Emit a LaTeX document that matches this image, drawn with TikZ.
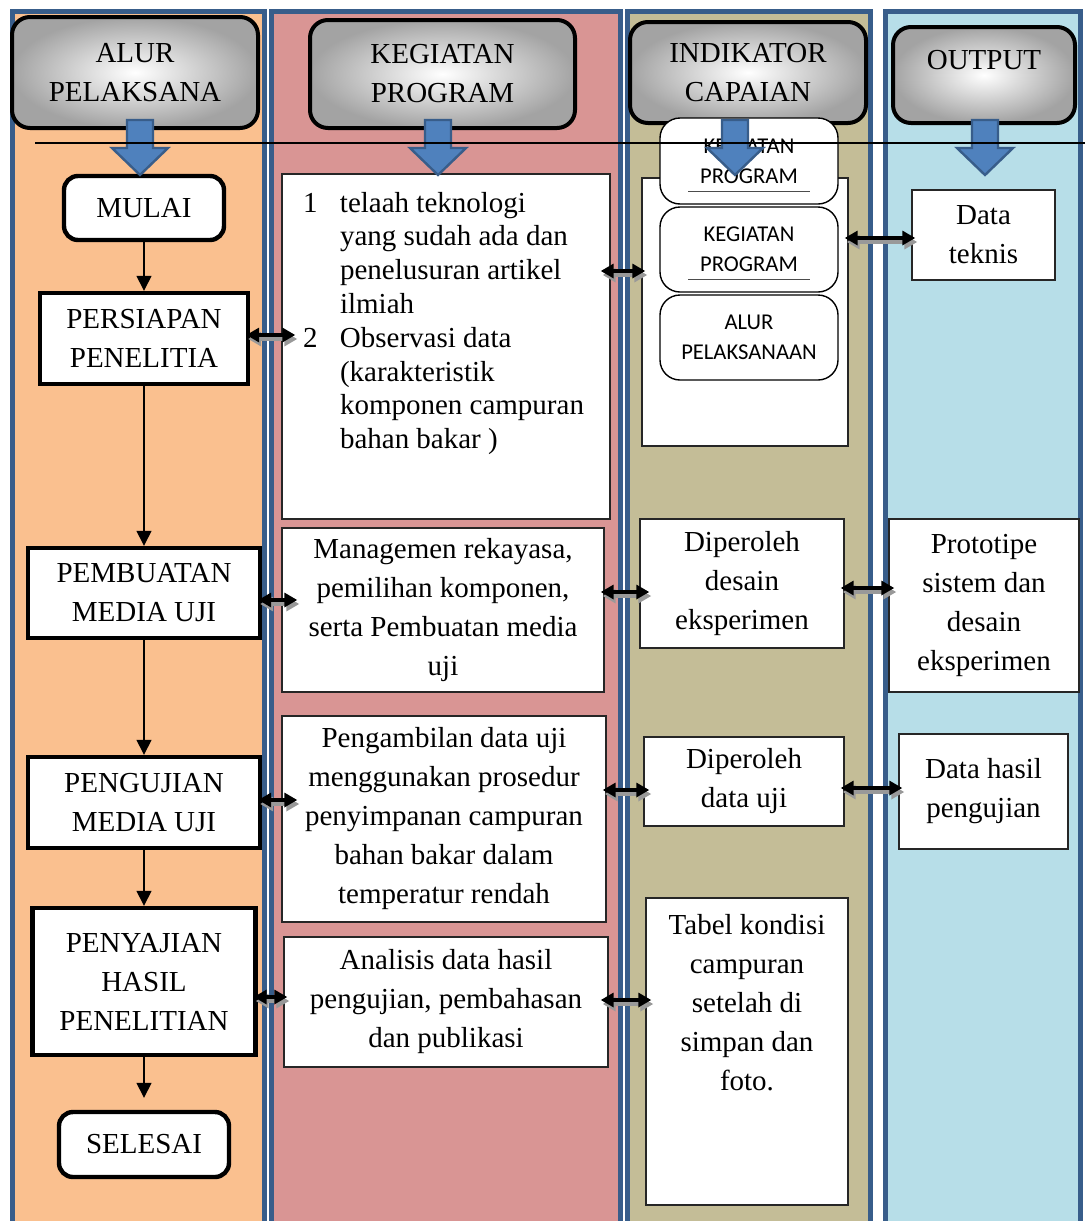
\documentclass[tikz,border=0pt]{standalone}
\usepackage{fontspec}
\setmainfont{Liberation Serif}
\newfontfamily\tagfont{Carlito}
\usetikzlibrary{arrows.meta}
\definecolor{lanedge}{RGB}{56,93,138}
\definecolor{lanepeach}{RGB}{250,192,143}
\definecolor{lanerose}{RGB}{217,149,148}
\definecolor{lanekhaki}{RGB}{196,189,151}
\definecolor{lanesky}{RGB}{183,222,232}
\definecolor{arrowblue}{RGB}{79,129,189}
\newcommand{\teks}{\fontsize{14.5pt}{19.5pt}\selectfont}
\tikzstyle{jalur} = [draw=lanedge, line width=2.5pt]
\tikzstyle{judul} = [draw=black, line width=2pt, rounded corners=9pt, inner color=white, outer color=black!36, align=center, font=\teks, inner sep=2pt]
\tikzstyle{tahap} = [draw=black, line width=2.2pt, fill=white, align=center, font=\teks, inner sep=2pt]
\tikzstyle{tahapujung} = [tahap, rounded corners=7pt]
\tikzstyle{kotak} = [draw=black!85, line width=0.7pt, fill=white, align=center, font=\teks, inner sep=2pt]
\tikzstyle{kotakbulat} = [draw=black, line width=0.7pt, rounded corners=10pt, fill=white, align=center, font=\tagfont\fontsize{11.3pt}{15pt}\selectfont, inner sep=2pt]
\tikzstyle{garis} = [draw=black!70, line width=0.5pt]
\tikzstyle{panah} = [-{Triangle[width=7.5pt,length=7.5pt]}, line width=0.7pt]
\tikzstyle{panahdua} = [{Triangle[width=7pt,length=6.5pt]}-{Triangle[width=7pt,length=6.5pt]}, line width=1.8pt, shorten <=-2pt, shorten >=-2pt]
\tikzstyle{panahbayang} = [panahdua, draw=black!40, transform canvas={shift={(1pt,-2pt)}}]
\tikzstyle{panahblok} = [fill=arrowblue, draw=lanedge, line width=1.2pt]
\newcommand{\panahganda}[3][]{%
  \draw[panahbayang,#1] #2 -- #3;
  \draw[panahdua,#1] #2 -- #3;}

\begin{document}
\begin{tikzpicture}[x=0.5pt,y=-0.5pt]
	\fill[white] (0,0) rectangle (1085,1221);
	\useasboundingbox (0,0) rectangle (1085,1221);
	% lajur
	\draw[jalur, fill=lanepeach] (12,11) rectangle (264.5,1240);
	\draw[jalur, fill=lanerose] (271,11) rectangle (620.5,1240);
	\draw[jalur, fill=lanekhaki] (627.5,11) rectangle (870.5,1240);
	\draw[jalur, fill=lanesky] (885.5,11) rectangle (1080.5,1240);
	% judul
	\node[judul, minimum width=123pt, minimum height=55.5pt] (alur) at (135,72.5) {ALUR\\PELAKSANA};
	\node[judul, minimum width=132.5pt, minimum height=54pt] (kegiatan) at (442.5,74) {KEGIATAN\\PROGRAM};
	\node[judul, minimum width=118pt, minimum height=50.5pt] (indikator) at (748,72.5) {INDIKATOR\\CAPAIAN};
	\node[judul, minimum width=91pt, minimum height=48pt, text depth=15pt] (output) at (984,75) {OUTPUT};
	% alur pelaksana
	\node[tahapujung, minimum width=80pt, minimum height=32pt] (mulai) at (144,208) {MULAI};
	\node[tahap, minimum width=104pt, minimum height=45.5pt] (persiapan) at (144,338.5) {PERSIAPAN\\PENELITIA};
	\node[tahap, minimum width=116pt, minimum height=45pt] (pembuatan) at (144,593) {PEMBUATAN\\MEDIA UJI};
	\node[tahap, minimum width=116pt, minimum height=45.5pt] (pengujian) at (144,802.5) {PENGUJIAN\\MEDIA UJI};
	\node[tahap, minimum width=111.5pt, minimum height=73.5pt] (penyajian) at (144,981.5) {PENYAJIAN\\HASIL\\PENELITIAN};
	\node[tahapujung, minimum width=85pt, minimum height=32.5pt] (selesai) at (144,1144.5) {SELESAI};
	\draw[panah] (mulai) -- (persiapan);
	\draw[panah] (persiapan) -- (pembuatan);
	\draw[panah] (pembuatan) -- (pengujian);
	\draw[panah] (pengujian) -- (penyajian);
	\draw[panah, shorten >=6pt] (penyajian) -- (selesai);
	% kegiatan program
	\node[kotak, inner sep=0pt] (telaah) at (446,346.5) {\parbox[c][172.5pt][t]{164pt}{\raggedright\leftskip=10.5pt\fontsize{14.5pt}{16.9pt}\selectfont
		\rule{0pt}{19pt}\makebox[18.5pt][l]{1}telaah teknologi\\
		\hspace*{18.5pt}yang sudah ada dan\\
		\hspace*{18.5pt}penelusuran artikel\\
		\hspace*{18.5pt}ilmiah\\
		\makebox[18.5pt][l]{2}Observasi data\\
		\hspace*{18.5pt}(karakteristik\\
		\hspace*{18.5pt}komponen campuran\\
		\hspace*{18.5pt}bahan bakar )}};
	\node[kotak, minimum width=161pt, minimum height=82pt] (rekayasa) at (443,610) {Managemen rekayasa,\\pemilihan komponen,\\serta Pembuatan media\\uji};
	\node[kotak, minimum width=162pt, minimum height=103pt] (prosedur) at (444,819) {Pengambilan data uji\\menggunakan prosedur\\penyimpanan campuran\\bahan bakar dalam\\temperatur rendah};
	\node[kotak, minimum width=162pt, minimum height=65pt] (analisis) at (446,1002) {Analisis data hasil\\pengujian, pembahasan\\dan publikasi};
	% indikator capaian
	\node[kotak, minimum width=103pt, minimum height=134pt] (capaian) at (745,312) {};
	\node[kotakbulat, minimum width=89pt, minimum height=43pt] (tag1) at (749,161) {KEGIATAN\\PROGRAM};
	\node[kotakbulat, minimum width=89pt, minimum height=42.5pt] (tag2) at (749,249.5) {KEGIATAN\\PROGRAM};
	\node[kotakbulat, minimum width=89pt, minimum height=42.5pt] (tag3) at (749,337.5) {ALUR\\PELAKSANAAN};
	\draw[garis] ([shift={(-61,-13)}]tag1.south) -- ([shift={(61,-13)}]tag1.south);
	\draw[garis] ([shift={(-61,-13)}]tag2.south) -- ([shift={(61,-13)}]tag2.south);
	\node[kotak, minimum width=102pt, minimum height=64.5pt] (desain) at (742,583.5) {Diperoleh\\desain\\eksperimen};
	\node[kotak, minimum width=100pt, minimum height=44.5pt] (datauji) at (744,781.5) {Diperoleh\\data uji};
	\node[kotak, inner sep=0pt] (tabel) at (747,1051.5) {\parbox[c][153.5pt][t]{101pt}{\centering\rule{0pt}{18pt}Tabel kondisi\\campuran\\setelah di\\simpan dan\\foto.}};
	% output
	\node[kotak, minimum width=71.5pt, minimum height=45pt] (teknis) at (983.5,235) {Data\\teknis};
	\node[kotak, minimum width=95pt, minimum height=86.5pt] (prototipe) at (984,605.5) {Prototipe\\sistem dan\\desain\\eksperimen};
	\node[kotak, minimum width=84.5pt, minimum height=57.5pt] (hasil) at (983.5,791.5) {Data hasil\\pengujian};
	% panah dua arah
	\panahganda[shorten >=-7pt]{(persiapan.east |- 0,335)}{(telaah.west |- 0,335)}
	\panahganda[shorten <=-5pt]{(telaah.east |- 0,271)}{(capaian.west |- 0,271)}
	\panahganda{(capaian.east |- 0,238)}{(teknis.west |- 0,238)}
	\panahganda[shorten >=-8pt]{(pembuatan.east |- 0,600)}{(rekayasa.west |- 0,600)}
	\panahganda[shorten >=-5pt]{(rekayasa.east |- 0,592)}{(desain.west |- 0,592)}
	\panahganda[shorten >=-3pt]{(desain.east |- 0,588)}{(prototipe.west |- 0,588)}
	\panahganda[shorten >=-8pt]{(pengujian.east |- 0,800)}{(prosedur.west |- 0,800)}
	\panahganda[shorten >=-3pt]{(prosedur.east |- 0,790)}{(datauji.west |- 0,790)}
	\panahganda{(datauji.east |- 0,788)}{(hasil.west |- 0,788)}
	\panahganda{(penyajian.east |- 0,997)}{(analisis.west |- 0,997)}
	\panahganda[shorten <=-4pt, shorten >=-3pt]{(analisis.east |- 0,1000)}{(tabel.west |- 0,1000)}
	% panah blok
	\foreach \x in {140,438,735,985}
		\draw[panahblok] (\x-13,120) -- (\x+13,120) -- (\x+13,148) -- (\x+28,148) -- (\x,175) -- (\x-28,148) -- (\x-13,148) -- cycle;
	\draw[line width=0.65pt] (35,143) -- (1085,143);
\end{tikzpicture}
\end{document}
